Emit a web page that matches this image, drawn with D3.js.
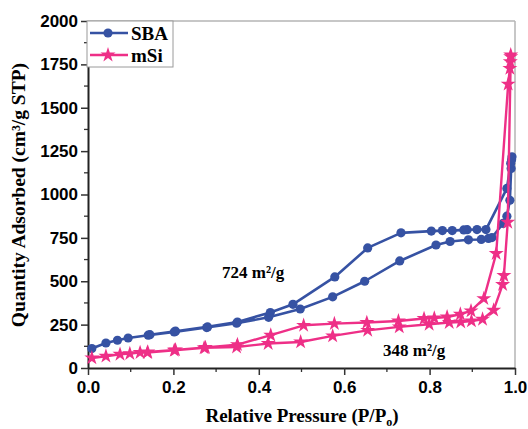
<!DOCTYPE html>
<html>
<head>
<meta charset="utf-8">
<script src="https://cdn.jsdelivr.net/npm/d3@7"></script>
<style>
  body { margin: 0; background: #fff; }
  svg { display: block; }
  .tick text { font-family: "Liberation Sans", Arial, sans-serif; font-weight: bold; font-size: 17px; fill: #000; }
  .lab { font-family: "Liberation Serif", "Times New Roman", serif; font-weight: bold; fill: #000; }
</style>
</head>
<body>
<div id="chart"></div>
<script>
// SBA isotherm: adsorption then desorption (P/P0, cm3/g STP)
var sbaP = [0.009, 0.042, 0.069, 0.094, 0.141, 0.202, 0.278, 0.348, 0.423, 0.497, 0.573, 0.648, 0.730, 0.815, 0.848, 0.891, 0.921, 0.938, 0.946, 0.972, 0.981, 0.988, 0.991, 0.993,
            0.992, 0.990, 0.981, 0.932, 0.911, 0.888, 0.880, 0.853, 0.830, 0.804, 0.733, 0.655, 0.578, 0.480, 0.427, 0.350, 0.280, 0.205, 0.145];
var sbaV = [112, 144, 160, 173, 189, 208, 233, 258, 292, 340, 410, 500, 617, 709, 729, 739, 741, 747, 752, 833, 875, 967, 1150, 1217,
            1200, 1180, 1035, 798, 798, 797, 796, 792, 792, 789, 779, 692, 525, 367, 320, 265, 237, 212, 192];

// mSi isotherm
var msiP = [0.009, 0.042, 0.075, 0.098, 0.122, 0.139, 0.202, 0.272, 0.348, 0.422, 0.498, 0.573, 0.655, 0.729, 0.799, 0.846, 0.873, 0.898, 0.924, 0.950, 0.971, 0.974, 0.983, 0.990,
            0.990, 0.989, 0.988, 0.984, 0.956, 0.927, 0.897, 0.872, 0.841, 0.811, 0.787, 0.727, 0.653, 0.577, 0.505, 0.428, 0.350, 0.275, 0.205, 0.140];
var msiV = [58, 68, 79, 83, 89, 89, 102, 116, 121, 141, 150, 185, 217, 237, 252, 262, 265, 271, 281, 333, 481, 533, 840, 1794,
            1804, 1765, 1727, 1636, 660, 400, 329, 310, 294, 288, 285, 271, 262, 256, 246, 189, 135, 118, 104, 92];

var xTicks = [0, 0.2, 0.4, 0.6, 0.8, 1.0];
var yTicks = [0, 250, 500, 750, 1000, 1250, 1500, 1750, 2000];
var seriesNames = ["SBA", "mSi"];
var seriesColors = ["#3652a3", "#ee2f87"];
var areaLabels = ["724 m\u00b2/g", "348 m\u00b2/g"];

var width = 528, height = 429;
var margin = {left: 88, top: 21, right: 13, bottom: 61};

var svg = d3.select("#chart").append("svg")
  .attr("width", width)
  .attr("height", height);

var x = d3.scaleLinear().domain([0, 1.0]).range([margin.left, width - margin.right]);
var y = d3.scaleLinear().domain([0, 2000]).range([height - margin.bottom, margin.top]);

// frame (top and right in grey)
svg.append("line").attr("x1", x(0)).attr("x2", x(1)).attr("y1", y(2000)).attr("y2", y(2000))
  .attr("stroke", "#b4b4b4").attr("stroke-width", 1.5);
svg.append("line").attr("x1", x(1)).attr("x2", x(1)).attr("y1", y(2000)).attr("y2", y(0))
  .attr("stroke", "#b4b4b4").attr("stroke-width", 1.5);

// minor ticks
var xMinor = d3.range(0.1, 1.0, 0.2);
svg.selectAll(".xminor").data(xMinor).enter().append("line")
  .attr("x1", d => x(d)).attr("x2", d => x(d))
  .attr("y1", y(0)).attr("y2", y(0) + 4)
  .attr("stroke", "#333").attr("stroke-width", 1.3);
var yMinor = d3.range(125, 2000, 250);
svg.selectAll(".yminor").data(yMinor).enter().append("line")
  .attr("x1", x(0) - 4).attr("x2", x(0))
  .attr("y1", d => y(d)).attr("y2", d => y(d))
  .attr("stroke", "#333").attr("stroke-width", 1.3);

var xAxis = svg.append("g")
  .attr("transform", "translate(0," + y(0) + ")")
  .call(d3.axisBottom(x).tickValues(xTicks).tickFormat(d3.format(".1f")).tickSize(7).tickSizeOuter(0));
var yAxis = svg.append("g")
  .attr("transform", "translate(" + x(0) + ",0)")
  .call(d3.axisLeft(y).tickValues(yTicks).tickFormat(d3.format("d")).tickSize(7).tickSizeOuter(0));

[xAxis, yAxis].forEach(function(a){
  a.select(".domain").attr("stroke", "#222").attr("stroke-width", 2);
  a.selectAll(".tick line").attr("stroke", "#333").attr("stroke-width", 1.5);
});
xAxis.selectAll(".tick text").attr("dy", "0.95em").attr("y", 9);
yAxis.selectAll(".tick text").attr("x", -10);

// data lines
var line = d3.line().x(d => x(d[0])).y(d => y(d[1]));
var sbaData = d3.zip(sbaP, sbaV);
var msiData = d3.zip(msiP, msiV);

svg.append("path").datum(sbaData).attr("d", line)
  .attr("fill", "none").attr("stroke", seriesColors[0]).attr("stroke-width", 2.6).attr("stroke-linejoin", "round");
svg.selectAll(".sba").data(sbaData).enter().append("circle")
  .attr("cx", d => x(d[0])).attr("cy", d => y(d[1])).attr("r", 4.6)
  .attr("fill", seriesColors[0]);

var star = d3.symbol().type(d3.symbolStar).size(70);
svg.append("path").datum(msiData).attr("d", line)
  .attr("fill", "none").attr("stroke", seriesColors[1]).attr("stroke-width", 2.4).attr("stroke-linejoin", "round");
svg.selectAll(".msi").data(msiData).enter().append("path")
  .attr("d", star)
  .attr("transform", d => "translate(" + x(d[0]) + "," + y(d[1]) + ")")
  .attr("fill", seriesColors[1]);

// legend
var lg = svg.append("g");
lg.append("rect").attr("x", x(0) - 1).attr("y", y(2000)).attr("width", 86).attr("height", 46)
  .attr("fill", "#fff").attr("stroke", "#9a9a9a").attr("stroke-width", 1);
seriesNames.forEach(function(name, i){
  var ly = 33 + i * 22;
  lg.append("line").attr("x1", 90).attr("x2", 128).attr("y1", ly).attr("y2", ly)
    .attr("stroke", seriesColors[i]).attr("stroke-width", 2.6);
  if (i === 0) {
    lg.append("circle").attr("cx", 108).attr("cy", ly).attr("r", 4.6).attr("fill", seriesColors[i]);
  } else {
    lg.append("path").attr("d", star).attr("transform", "translate(108," + ly + ")").attr("fill", seriesColors[i]);
  }
  lg.append("text").attr("class", "lab").attr("x", 131).attr("y", ly + 6.5)
    .attr("font-size", 19).text(name);
});

// surface area annotations
svg.append("text").attr("class", "lab").attr("x", 222).attr("y", 278).attr("font-size", 17).text(areaLabels[0]);
svg.append("text").attr("class", "lab").attr("x", 383).attr("y", 356).attr("font-size", 17).text(areaLabels[1]);

// axis titles
svg.append("text").attr("class", "lab")
  .attr("transform", "translate(25," + 195 + ") rotate(-90)")
  .attr("text-anchor", "middle").attr("font-size", 19.5)
  .text("Quantity Adsorbed (cm\u00b3/g STP)");

var xt = svg.append("text").attr("class", "lab")
  .attr("x", 302).attr("y", 422).attr("text-anchor", "middle").attr("font-size", 19);
xt.append("tspan").text("Relative Pressure (P/P");
xt.append("tspan").attr("font-size", 12).attr("dy", 4).text("o");
xt.append("tspan").attr("dy", -4).text(")");
</script>
</body>
</html>
